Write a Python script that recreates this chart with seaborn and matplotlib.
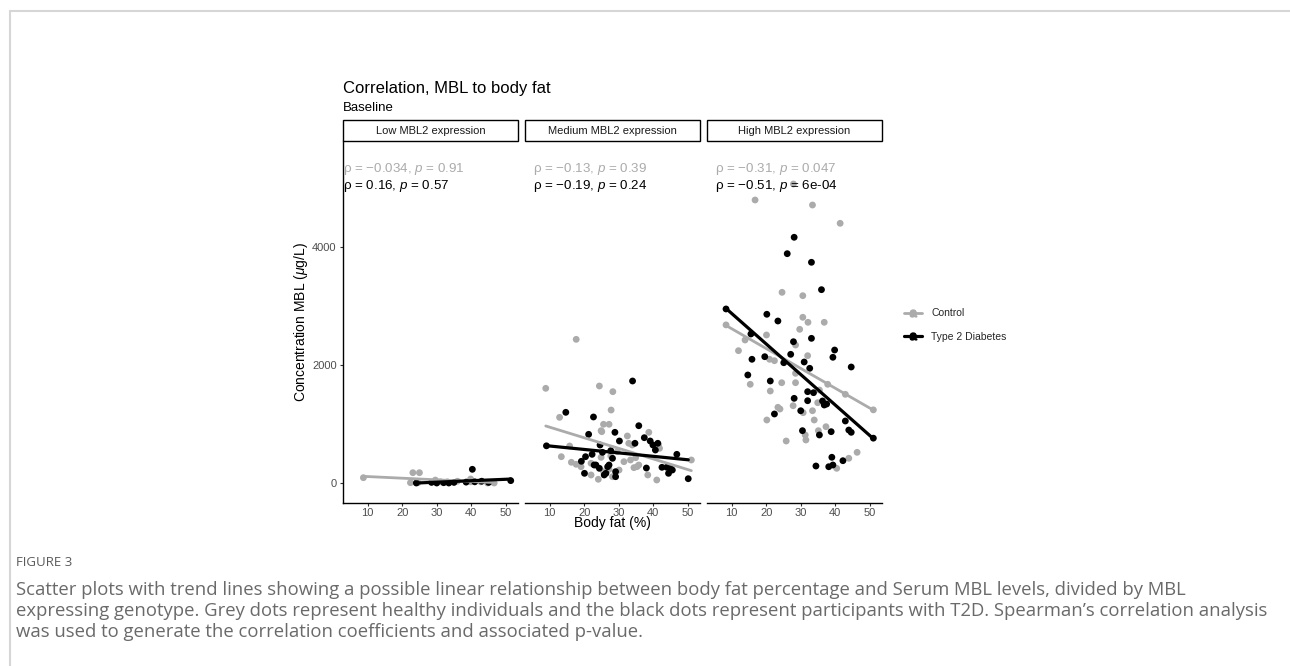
import numpy as np
import pandas as pd
import matplotlib
matplotlib.use("Agg")
import matplotlib.pyplot as plt
import seaborn as sns
from matplotlib.lines import Line2D
from matplotlib.patches import Rectangle
from matplotlib.legend_handler import HandlerTuple

# ---------------- data ----------------
panels = ["Low MBL2 expression", "Medium MBL2 expression", "High MBL2 expression"]
groups = ["Control", "Type 2 Diabetes"]

low_ctrl_fat = [8.8, 22.4, 23.1, 24.6, 25.0, 29.6, 31.1, 33.1, 36.0, 39.8, 39.8, 42.7, 44.7, 46.6]
low_ctrl_mbl = [90, 5, 175, 5, 175, 50, 20, 20, 30, 68, 20, 20, 0, 0]
low_t2d_fat = [24.1, 28.5, 30.0, 32.0, 33.5, 35.0, 38.5, 40.3, 41.0, 43.0, 45.0, 51.4]
low_t2d_mbl = [0, 10, 0, 5, 0, 10, 15, 232, 20, 30, 10, 40]

med_ctrl_fat = [17.7, 8.9, 24.4, 28.3, 27.8, 12.9, 25.6, 27.2, 24.9, 25.1, 38.7, 32.5, 15.8, 13.4,
                16.3, 17.7, 19.1, 22.0, 22.0, 24.1, 25.6, 27.2, 28.2, 24.9, 27.7, 29.6, 31.5, 33.4,
                34.9, 35.8, 38.4, 41.0, 32.9, 33.9, 41.5, 41.8, 51.0, 34.4, 35.3, 30.1]
med_ctrl_mbl = [2435, 1605, 1644, 1548, 1237, 1113, 995, 995, 887, 870, 859, 797, 627, 446,
                351, 317, 276, 334, 136, 63, 192, 232, 107, 435, 458, 531, 361, 390,
                429, 305, 136, 51, 673, 644, 644, 588, 390, 260, 277, 220]
med_t2d_fat = [9.1, 34.0, 14.7, 22.7, 21.3, 28.9, 30.2, 35.8, 37.4, 34.7, 39.1, 39.9, 40.6, 41.3,
               46.8, 50.1, 38.0, 42.5, 43.9, 45.0, 45.5, 44.4, 19.2, 20.4, 22.3, 22.9, 25.3,
               24.6, 20.1, 23.4, 24.4, 25.8, 26.3, 26.8, 27.2, 29.1, 29.1, 28.2, 27.7]
med_t2d_mbl = [630, 1729, 1198, 1119, 825, 859, 712, 971, 768, 673, 712, 644, 559, 673,
               486, 73, 254, 266, 266, 249, 220, 164, 368, 446, 486, 305, 520,
               644, 164, 305, 249, 136, 164, 276, 305, 192, 107, 418, 548]

high_ctrl_fat = [8.4, 16.8, 27.9, 33.4, 41.4, 24.6, 30.6, 30.6, 32.1, 36.8, 29.7, 20.1, 12.0, 13.9,
                 28.5, 32.0, 21.0, 22.4, 28.5, 15.4, 21.2, 24.5, 28.5, 37.8, 42.9, 35.4, 34.9,
                 27.8, 23.4, 24.0, 30.7, 33.4, 20.2, 33.9, 31.3, 31.5, 35.1, 37.3, 25.8, 46.3,
                 43.9, 40.4, 51.0]
high_ctrl_mbl = [2680, 4797, 5068, 4712, 4402, 3232, 3175, 2809, 2724, 2724, 2605, 2509, 2243, 2424,
                 2339, 2158, 2097, 2073, 1859, 1673, 1559, 1700, 1700, 1673, 1503, 1576, 1361,
                 1310, 1283, 1254, 1192, 1225, 1068, 1068, 814, 729, 887, 954, 712, 520,
                 419, 249, 1240]
high_t2d_fat = [8.4, 28.1, 26.1, 33.1, 36.0, 20.2, 23.4, 15.6, 33.1, 27.9, 27.1, 19.6, 39.8, 39.3,
                15.9, 25.1, 31.0, 32.6, 14.7, 21.2, 44.6, 32.0, 33.7, 28.1, 32.0, 36.3, 36.8,
                37.5, 30.0, 22.4, 42.9, 30.5, 35.4, 38.8, 43.9, 44.6, 39.0, 34.4, 38.1, 39.3,
                42.2, 51.0]
high_t2d_mbl = [2950, 4165, 3887, 3741, 3277, 2860, 2746, 2526, 2452, 2395, 2181, 2141, 2254, 2131,
                2097, 2039, 2051, 1944, 1831, 1729, 1966, 1548, 1531, 1435, 1395, 1390, 1322,
                1339, 1225, 1170, 1051, 887, 814, 870, 898, 859, 436, 288, 276, 305,
                378, 760]

rho_ctrl = ["\u22120.034", "\u22120.13", "\u22120.31"]
p_ctrl = ["0.91", "0.39", "0.047"]
rho_t2d = ["0.16", "\u22120.19", "\u22120.51"]
p_t2d = ["0.57", "0.24", "6e-04"]

x_ticks = [10, 20, 30, 40, 50]
y_ticks = [0, 2000, 4000]

# ---------------- build table ----------------
rows = []
series = [
    (panels[0], groups[0], low_ctrl_fat, low_ctrl_mbl),
    (panels[0], groups[1], low_t2d_fat, low_t2d_mbl),
    (panels[1], groups[0], med_ctrl_fat, med_ctrl_mbl),
    (panels[1], groups[1], med_t2d_fat, med_t2d_mbl),
    (panels[2], groups[0], high_ctrl_fat, high_ctrl_mbl),
    (panels[2], groups[1], high_t2d_fat, high_t2d_mbl),
]
for pan, grp, xs, ys in series:
    for xv, yv in zip(xs, ys):
        rows.append(dict(panel=pan, group=grp, fat=xv, mbl=yv))
df = pd.DataFrame(rows)

# ---------------- style ----------------
sns.set_style("white")
plt.rcParams["font.family"] = ["Liberation Sans", "DejaVu Sans"]
plt.rcParams["mathtext.fontset"] = "custom"
plt.rcParams["mathtext.rm"] = "Liberation Sans"
plt.rcParams["mathtext.it"] = "Liberation Sans:italic"
plt.rcParams["mathtext.bf"] = "Liberation Sans:bold"

GREY = "#ABABAB"
BLACK = "#000000"
palette = {groups[0]: GREY, groups[1]: BLACK}
TICKCOL = "#4D4D4D"

W, H = 1290, 666
fig = plt.figure(figsize=(W / 100, H / 100), dpi=100)

def fx(px):
    return px / W

def fy(py):
    return 1 - py / H

panel_left = [343, 525, 707]
panel_w = 175
top_px, bot_px = 141, 503
axes = []
for i, pan in enumerate(panels):
    ax = fig.add_axes([fx(panel_left[i]), fy(bot_px), panel_w / W, (bot_px - top_px) / H])
    axes.append(ax)
    sub = df[df.panel == pan]
    sns.scatterplot(data=sub, x="fat", y="mbl", hue="group", palette=palette,
                    hue_order=groups, s=24, linewidth=0, legend=False, ax=ax, zorder=2)
    for g in groups:
        sns.regplot(data=sub[sub.group == g], x="fat", y="mbl", scatter=False, ci=None,
                    truncate=True, color=palette[g],
                    line_kws=dict(lw=2.0 if g == groups[0] else 2.3, zorder=3), ax=ax)
    ax.set_xlim(2.9, 53.5)
    ax.set_ylim(-339, 5797)
    ax.set_xticks(x_ticks)
    ax.set_xlabel("")
    ax.set_ylabel("")
    ax.tick_params(axis="x", labelsize=8, labelcolor=TICKCOL, length=2.5, width=0.8,
                   color="#333333", pad=1, bottom=True)
    for s in ["top", "right"]:
        ax.spines[s].set_visible(False)
    ax.spines["bottom"].set_linewidth(1.0)
    ax.spines["bottom"].set_color("black")
    if i == 0:
        ax.set_yticks(y_ticks)
        ax.tick_params(axis="y", labelsize=8, labelcolor=TICKCOL, length=2.5, width=0.8,
                       color="#333333", pad=2, left=True)
        ax.spines["left"].set_linewidth(1.0)
        ax.spines["left"].set_color("black")
    else:
        ax.set_yticks([])
        ax.spines["left"].set_visible(False)
    # strip
    strip_h = 21 / (bot_px - top_px)
    ax.add_patch(Rectangle((0, 1.0), 1, strip_h, transform=ax.transAxes, clip_on=False,
                           facecolor="white", edgecolor="black", lw=1.0, zorder=5))
    ax.text(0.5, 1.0 + strip_h / 2, pan, transform=ax.transAxes, ha="center", va="center",
            fontsize=8, color="#1A1A1A", zorder=6)
    # correlation annotations
    tx = 0.0 if i == 0 else 0.045
    ax.text(tx, (483 - 169) * 2000 / 118, "\u03c1 = %s, $\\it{p}$ = %s" % (rho_ctrl[i], p_ctrl[i]),
            transform=ax.get_yaxis_transform(), ha="left", va="center", fontsize=9.6, color=GREY)
    ax.text(tx, (483 - 186) * 2000 / 118, "\u03c1 = %s, $\\it{p}$ = %s" % (rho_t2d[i], p_t2d[i]),
            transform=ax.get_yaxis_transform(), ha="left", va="center", fontsize=9.6, color=BLACK)

# axis labels and titles
fig.text(fx(301), fy(322), "Concentration MBL ($\\mu$g/L)", rotation=90, ha="center",
         va="center", fontsize=10, color="black")
fig.text(fx(612), fy(523), "Body fat (%)", ha="center", va="center", fontsize=10, color="black")
fig.text(fx(343), fy(89), "Correlation, MBL to body fat", ha="left", va="center", fontsize=12,
         color="black")
fig.text(fx(343), fy(108), "Baseline", ha="left", va="center", fontsize=9.5, color="black")

# legend
handles = [
    (Line2D([], [], color=GREY, lw=2.0, marker="o", ms=4, mec=GREY, mfc=GREY),
     Line2D([], [], ls="none", marker="$\\mathrm{a}$", ms=5, color=GREY)),
    (Line2D([], [], color=BLACK, lw=2.3, marker="o", ms=4, mec=BLACK, mfc=BLACK),
     Line2D([], [], ls="none", marker="$\\mathrm{a}$", ms=5, color=BLACK)),
]
fig.legend(handles, groups, handler_map={tuple: HandlerTuple(ndivide=1, pad=0)},
           loc="center left", bbox_to_anchor=(fx(904), fy(325)), frameon=False,
           fontsize=7.5, handlelength=1.7, handletextpad=0.9, labelspacing=1.3,
           borderpad=0, borderaxespad=0)

# page frame
fig.add_artist(Line2D([fx(10), 1], [fy(11), fy(11)], color="#D6D6D6", lw=1.5,
                      transform=fig.transFigure))
fig.add_artist(Line2D([fx(10), fx(10)], [fy(11), 0], color="#D6D6D6", lw=1.5,
                      transform=fig.transFigure))

# caption
cap_font = ["Open Sans", "DejaVu Sans"]
fig.text(fx(16), fy(563), "FIGURE 3", ha="left", va="center", fontsize=9.5, color="#5A5A5A",
         family=cap_font)
caption_lines = [
    "Scatter plots with trend lines showing a possible linear relationship between body fat percentage and Serum MBL levels, divided by MBL",
    "expressing genotype. Grey dots represent healthy individuals and the black dots represent participants with T2D. Spearman\u2019s correlation analysis",
    "was used to generate the correlation coefficients and associated p-value.",
]
for k, line in enumerate(caption_lines):
    fig.text(fx(16), fy(590 + 21 * k), line, ha="left", va="center", fontsize=13.3,
             color="#6A6A6A", family=cap_font)

fig.savefig("out.png", dpi=100)
